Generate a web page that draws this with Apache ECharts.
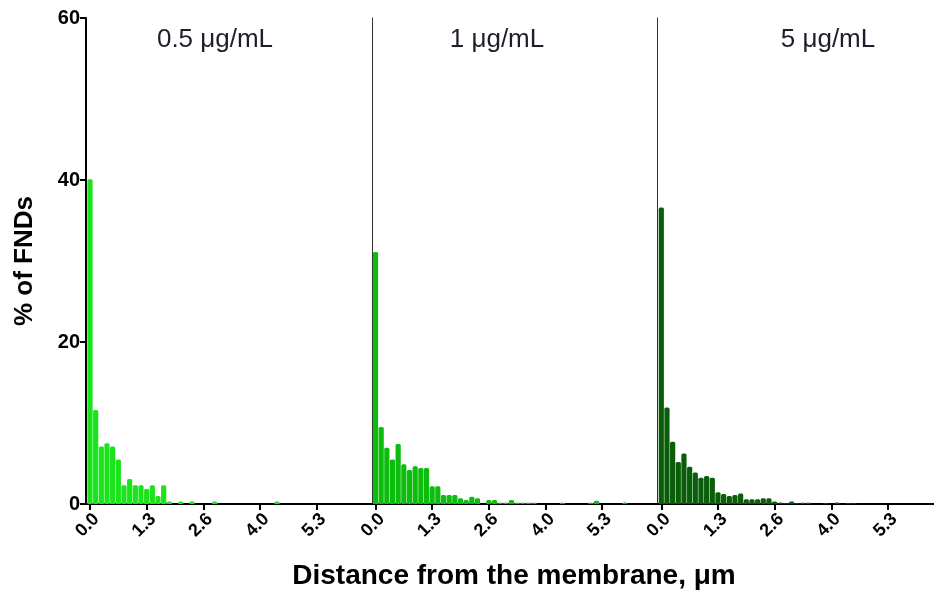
<!DOCTYPE html>
<html>
<head>
<meta charset="utf-8">
<script src="https://cdn.jsdelivr.net/npm/echarts@6/dist/echarts.min.js"></script>
<style>
html,body{margin:0;padding:0;background:#fff;}
#chart{width:934px;height:592px;}
</style>
</head>
<body>
<div id="chart"></div>
<script>
// Histogram bin width (µm) and the bin index -> bin centre relation
const BIN_WIDTH_UM = 0.13333;
const panelTitles = ["0.5 \u03bcg/mL", "1 \u03bcg/mL", "5 \u03bcg/mL"];
const tickValues = [0, 1.3333, 2.6667, 4.0, 5.3333];
const tickLabels = ["0.0", "1.3", "2.6", "4.0", "5.3"];

// % of FNDs per distance bin
const conc05 = [40.1, 11.6, 7.1, 7.5, 7.1, 5.5, 2.3, 3.1, 2.3, 2.3,
                1.85, 2.3, 1.0, 2.3, 0.3, 0, 0.3, 0, 0.3, 0,
                0, 0, 0.3, 0, 0, 0, 0, 0, 0, 0,
                0, 0, 0, 0.3];
const conc1  = [31.1, 9.5, 6.95, 5.5, 7.4, 4.9, 4.2, 4.65, 4.45, 4.45,
                2.2, 2.2, 1.1, 1.1, 1.1, 0.7, 0.5, 0.9, 0.7, 0,
                0.5, 0.5, 0.15, 0.15, 0.5, 0.15, 0.15, 0.15, 0.15, 0,
                0, 0, 0, 0.15, 0, 0, 0, 0, 0.15, 0.4,
                0, 0, 0, 0, 0.2];
const conc5  = [36.6, 11.9, 7.7, 5.2, 6.25, 4.6, 3.9, 3.25, 3.45, 3.25,
                1.45, 1.25, 1.0, 1.1, 1.3, 0.6, 0.6, 0.6, 0.7, 0.7,
                0.3, 0.2, 0.1, 0.3, 0.1, 0.15, 0.15, 0, 0, 0.1,
                0, 0.2, 0, 0.1, 0.1];

const seriesData = [conc05, conc1, conc5];
const colors = ['#1CE41C', '#0DBD0D', '#0A5E0A'];

const FONT = 'Liberation Sans, Arial, sans-serif';
const pxPerUm = 42.5;
const panels = [
  {left: 86, width: 286, zeroOff: 4},
  {left: 372, width: 285, zeroOff: 3.5},
  {left: 657, width: 285, zeroOff: 4.3}
];

const grids = [], xAxes = [], yAxes = [], series = [];
panels.forEach((p, i) => {
  grids.push({left: p.left, width: p.width, top: 18, height: 486, containLabel: false, outerBoundsMode: 'none'});
  const mn = -p.zeroOff / pxPerUm;
  xAxes.push({
    type: 'value', gridIndex: i, min: mn, max: mn + p.width / pxPerUm,
    splitLine: {show: false},
    axisLine: {show: true, onZero: false, lineStyle: {color: '#000', width: 2}},
    axisTick: {show: true, customValues: tickValues, length: 6, lineStyle: {color: '#000', width: 2}},
    axisLabel: {
      show: true, customValues: tickValues, rotate: 45, margin: 6, hideOverlap: false,
      verticalAlign: 'top',
      fontFamily: FONT, fontWeight: 'bold', fontSize: 18, color: '#000',
      formatter: v => {
        const k = tickValues.findIndex(t => Math.abs(t - v) < 1e-3);
        return k >= 0 ? tickLabels[k] : '';
      }
    }
  });
  yAxes.push({
    type: 'value', gridIndex: i, min: 0, max: 60, interval: 20,
    splitLine: {show: false},
    name: i === 0 ? '% of FNDs' : '',
    nameLocation: 'middle', nameGap: 48,
    nameTextStyle: {fontFamily: FONT, fontWeight: 'bold', fontSize: 26, color: '#000'},
    axisLine: {show: true, onZero: false, lineStyle: i === 0 ? {color: '#000', width: 2} : {color: '#333', width: 1}},
    axisTick: {show: i === 0, length: 6, lineStyle: {color: '#000', width: 2}},
    axisLabel: {show: i === 0, margin: 6, fontFamily: FONT, fontWeight: 'bold', fontSize: 20, color: '#000'}
  });
  series.push({
    type: 'bar', xAxisIndex: i, yAxisIndex: i,
    barWidth: 5.2, barGap: '0%',
    itemStyle: {color: colors[i], borderRadius: [1.5, 1.5, 0, 0]},
    data: seriesData[i].map((v, k) => [k * BIN_WIDTH_UM, v]),
    z: 2
  });
});

const titleX = [215, 497, 828];
const graphic = panelTitles.map((t, i) => ({
  type: 'text', z: 10,
  style: {text: t, x: titleX[i], y: 40, textAlign: 'center', textVerticalAlign: 'middle',
          fontFamily: FONT, fontSize: 26, fill: '#1e1e2a'}
}));
graphic.push({
  type: 'text', z: 10,
  style: {text: 'Distance from the membrane, \u03bcm', x: 514, y: 576, textAlign: 'center', textVerticalAlign: 'middle',
          fontFamily: FONT, fontWeight: 'bold', fontSize: 28, fill: '#000'}
});

const chart = echarts.init(document.getElementById('chart'), null, {renderer: 'canvas'});
chart.setOption({
  animation: false,
  backgroundColor: '#fff',
  grid: grids, xAxis: xAxes, yAxis: yAxes, series: series, graphic: graphic
});
</script>
</body>
</html>
